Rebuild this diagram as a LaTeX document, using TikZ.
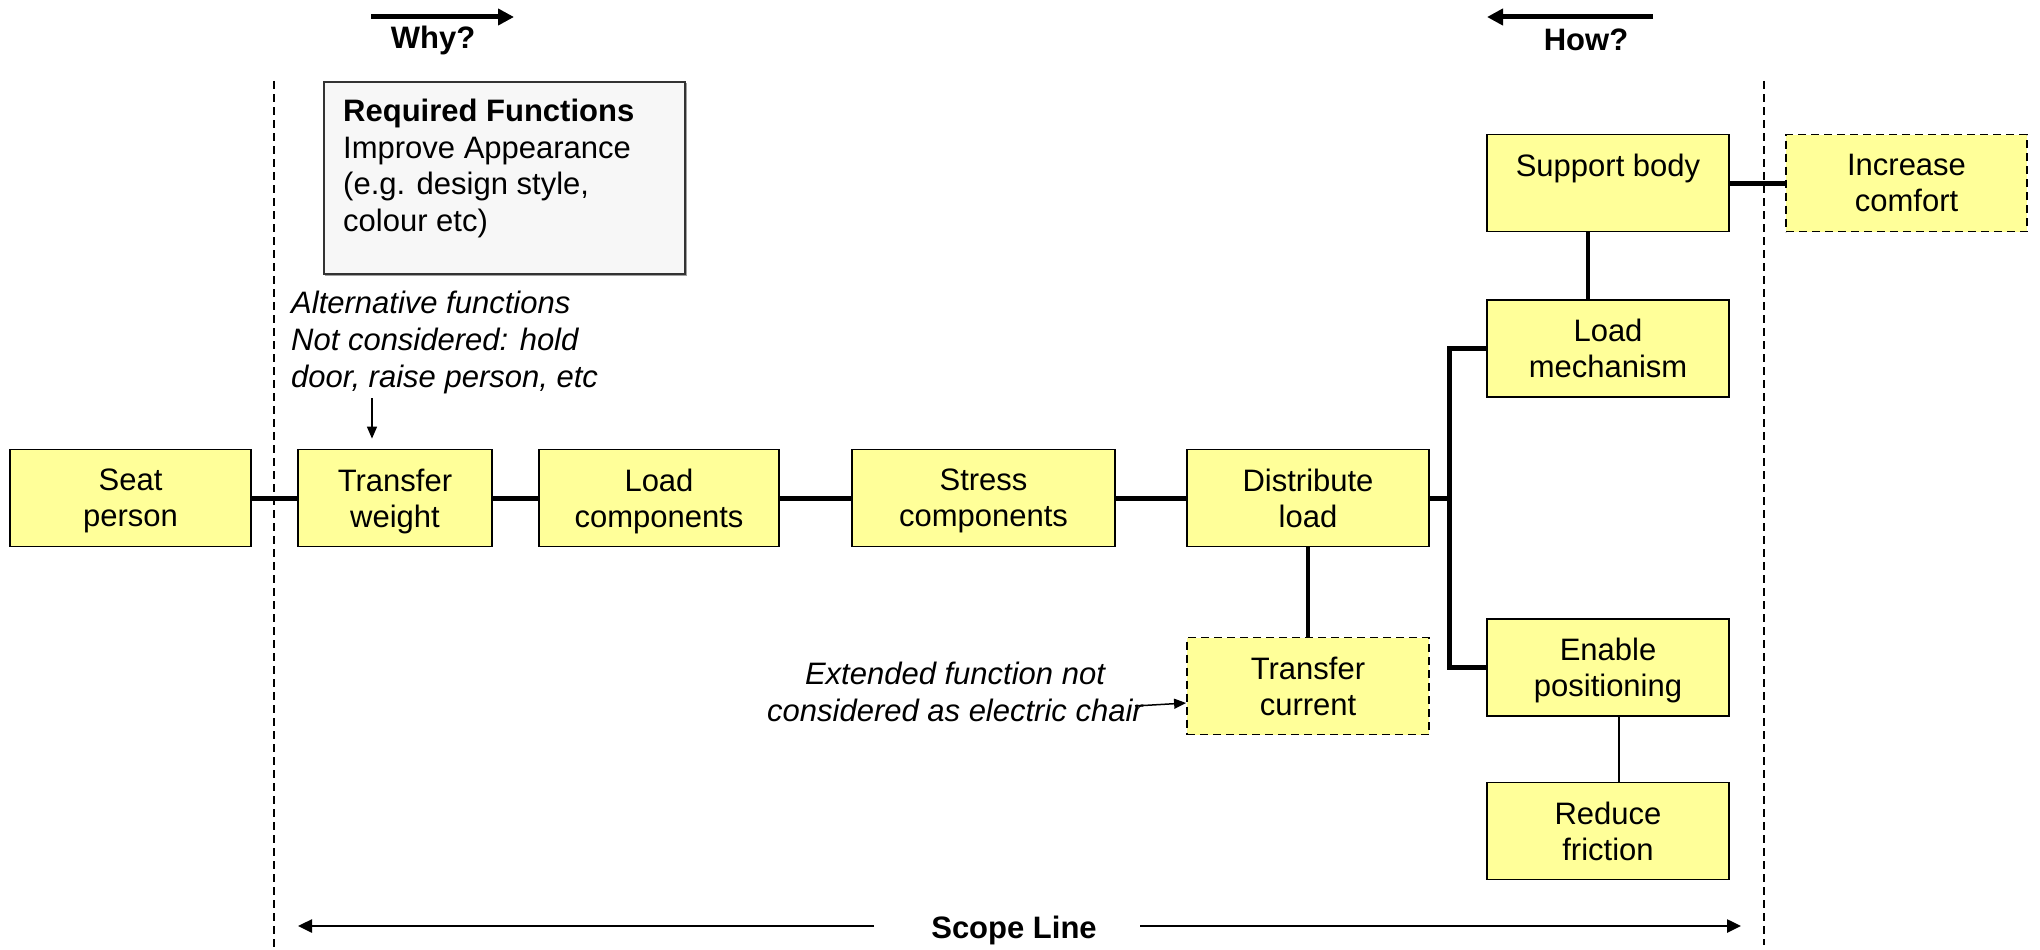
\documentclass[tikz,border=0pt]{standalone}
\usepackage{fontspec}
\setmainfont{Liberation Sans}
\usetikzlibrary{arrows.meta}
\definecolor{boxyellow}{HTML}{FFFF99}
\definecolor{boxgray}{HTML}{F7F7F7}
\definecolor{shadowgray}{HTML}{A0A0A0}
\tikzset{
  fnbox/.style={draw=black, line width=1.8pt, fill=boxyellow, minimum width=#1, minimum height=97pt, inner sep=0pt, align=center, text depth=0pt, font=\fontsize{31}{36}\selectfont},
  fnbox/.default=242pt,
  dashbox/.style={fnbox=#1, dash pattern=on 8pt off 5pt},
  dashbox/.default=242pt,
  thick link/.style={line width=5pt},
  mid link/.style={line width=4.5pt},
  thin link/.style={line width=1.5pt},
  scopeline/.style={dash pattern=on 8pt off 5pt, line width=1.5pt},
  label text/.style={font=\fontsize{31}{37}\selectfont, inner sep=0pt},
  note text/.style={font=\fontsize{31}{37}\selectfont\itshape, inner sep=0pt},
  bigarrow/.style={line width=5pt, -{Triangle[length=16pt,width=16pt]}},
  scopearrow/.style={line width=2.5pt, -{Triangle[length=14pt,width=13pt]}},
  smallarrow/.style={line width=1.5pt, -{Triangle[length=12pt,width=10pt]}},
}
\begin{document}
\begin{tikzpicture}[x=1pt,y=-1pt]
\useasboundingbox (0,0) rectangle (2040,950);

% scope (dashed) lines
\draw[scopeline] (274,81) -- (274,950);
\draw[scopeline] (1764,81) -- (1764,945);

% Why? / How?
\coordinate (whyA) at (371,17);
\coordinate (whyB) at (514,17);
\draw[bigarrow] (whyA) -- (whyB);
\node[label text, font=\fontsize{31}{37}\selectfont\bfseries] (why) at (433,40) {Why?};
\coordinate (howA) at (1653,17);
\coordinate (howB) at (1487,17);
\draw[bigarrow] (howA) -- (howB);
\node[label text, font=\fontsize{31}{37}\selectfont\bfseries] (how) at (1586,40) {How?};

% Required functions box
\draw[shadowgray, line width=1.5pt] (325,275) -- (686,275) -- (686,83);
\node[draw=black!80, line width=1.8pt, fill=boxgray, minimum width=361pt, minimum height=192pt, inner sep=0pt, anchor=north west] (req) at (323,81) {};
\node[label text, anchor=north west, align=left, font=\fontsize{31}{36.5}\selectfont] (reqtext) at (343,99)
  {\textbf{Required Functions}\\Improve Appearance\\(e.g. design style,\\colour etc)};

% Function boxes
\node[fnbox=241pt] (seat) at (130.5,498) {Seat\\person};
\node[fnbox=194pt] (tw) at (395,498) {Transfer\\weight};
\node[fnbox=240pt] (lc) at (659,498) {Load\\components};
\node[fnbox=263pt] (sc) at (983.5,498) {Stress\\components};
\node[fnbox=242pt] (dl) at (1308,498) {Distribute\\load};
\node[dashbox=242pt] (tc) at (1308,686) {Transfer\\current};
\node[fnbox=242pt] (sb) at (1608,183) {Support body\\\phantom{y}};
\node[dashbox=241pt] (ic) at (1906.5,183) {Increase\\comfort};
\node[fnbox=242pt] (lm) at (1608,348.5) {Load\\mechanism};
\node[fnbox=242pt] (ep) at (1608,667.5) {Enable\\positioning};
\node[fnbox=242pt] (rf) at (1608,831) {Reduce\\friction};

% Notes
\node[note text, anchor=north west, align=left] (alt) at (291,291)
  {Alternative functions\\Not considered: hold\\door, raise person, etc};
\draw[smallarrow] (alt.south -| 372,0) ++(0,4) -- ([yshift=10pt]tw.north -| 372,0);

\node[note text, align=center] (ext) at (955,692)
  {Extended function not\\considered as electric chair};
\draw[smallarrow] ([xshift=-8pt,yshift=-14pt]ext.east) -- ([yshift=-17pt]tc.west);

% Main chain
\draw[thick link] (seat) -- (tw);
\draw[thick link] (tw) -- (lc);
\draw[thick link] (lc) -- (sc);
\draw[thick link] (sc) -- (dl);
\coordinate (bus) at (1449,498);
\draw[thick link] (dl.east) -- (bus);
\draw[thick link] (lm.west) -- (lm.west -| bus) -- (ep.west -| bus) -- (ep.west);
\draw[mid link] (dl.south) -- (tc.north);
\draw[mid link] (sb.south -| 1588,0) -- (lm.north -| 1588,0);
\draw[thick link] (sb.east) -- (ic.west);
\draw[thin link] (ep.south -| 1619,0) -- (rf.north -| 1619,0);

% Scope line
\node[label text, font=\fontsize{31}{37}\selectfont\bfseries] (scope) at (1014,930) {Scope Line};
\coordinate (scL) at (298,926);
\coordinate (scR) at (1741,926);
\draw[scopearrow] (874,926) -- (scL);
\draw[scopearrow] (1140,926) -- (scR);
\end{tikzpicture}
\end{document}
